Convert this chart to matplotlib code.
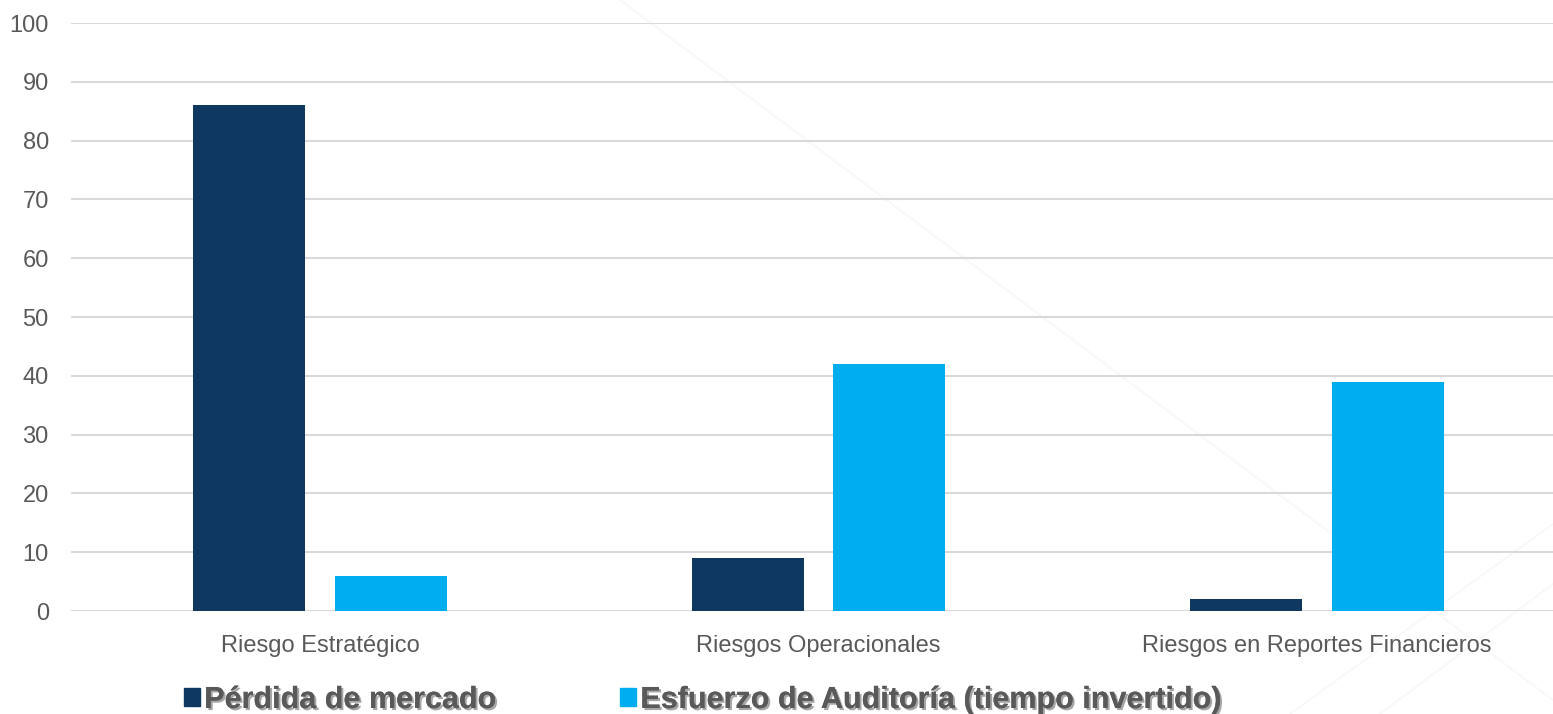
import numpy as np
import matplotlib.pyplot as plt
import matplotlib.patheffects as pe
from matplotlib.patches import Patch
from matplotlib.lines import Line2D

plt.rcParams['font.family'] = ['Liberation Sans', 'DejaVu Sans']

categorias = ['Riesgo Estratégico', 'Riesgos Operacionales', 'Riesgos en Reportes Financieros']
perdida = [86, 9, 2]
esfuerzo = [6, 42, 39]
series = ['Pérdida de mercado', 'Esfuerzo de Auditoría (tiempo invertido)']
y_ticks = [0, 10, 20, 30, 40, 50, 60, 70, 80, 90, 100]

c_dark = '#0E3860'
c_light = '#00AEEF'
gris = '#595959'

fig = plt.figure(figsize=(15.53, 7.14), dpi=100)

# lineas decorativas de la plantilla (muy tenues)
for xy in [((620, 714), (1553, 14)), ((1380, 0), (1553, 130)), ((1290, 0), (1553, 190))]:
    (x0, y0), (x1, y1) = xy
    fig.add_artist(Line2D([x0 / 1553, x1 / 1553], [y0 / 714, y1 / 714],
                          color='#F6F6F6', lw=1, zorder=0))

ax = fig.add_axes([71 / 1553, 103 / 714, 1 - 71 / 1553, 588 / 714])
ax.patch.set_alpha(0)

x = np.arange(len(categorias))
w = 0.2247
off = 0.1424
ax.bar(x - off, perdida, w, color=c_dark, zorder=3)
ax.bar(x + off, esfuerzo, w, color=c_light, zorder=3)

ax.set_xlim(-0.5, 2.474)
ax.set_ylim(0, 100)
ax.set_yticks(y_ticks)
ax.set_xticks(x)
ax.set_xticklabels(categorias)
ax.grid(axis='y', color='#D9D9D9', lw=1.5, zorder=0)
ax.tick_params(axis='both', length=0, labelcolor=gris, labelsize=17)
ax.tick_params(axis='y', pad=16)
ax.tick_params(axis='x', pad=17)
for s in ax.spines.values():
    s.set_visible(False)

handles = [Patch(color=c_dark), Patch(color=c_light)]
leg = fig.legend(handles, series, loc='center left', bbox_to_anchor=(184 / 1553, 14 / 714),
                 ncol=2, frameon=False, handlelength=0.53, handleheight=0.53,
                 handletextpad=0.13, columnspacing=4.05, borderaxespad=0, borderpad=0,
                 prop={'size': 22, 'weight': 'bold'})
for t in leg.get_texts():
    t.set_color(gris)
    t.set_path_effects([pe.withSimplePatchShadow(offset=(1.5, -1.5), shadow_rgbFace='#000000', alpha=0.35),
                        pe.Normal()])

fig.savefig('out.png', dpi=100)
